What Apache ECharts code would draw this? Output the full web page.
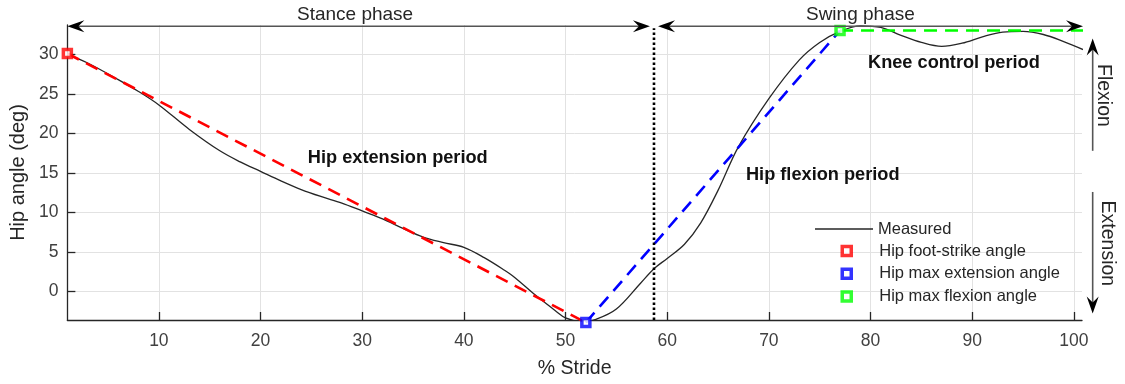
<!DOCTYPE html>
<html>
<head>
<meta charset="utf-8">
<title>Hip angle over the stride</title>
<script src="https://cdn.jsdelivr.net/npm/echarts@6/dist/echarts.min.js"></script>
<style>
  html, body { margin: 0; padding: 0; background: #ffffff; }
  #chart { width: 1125px; height: 384px; }
</style>
</head>
<body>
<div id="chart"></div>
<script>
// Measured hip angle (deg) against % stride
const strideX = [1, 3, 6, 8, 10, 13, 16, 18, 20, 22, 24, 26, 28, 30, 32, 34, 36, 38, 40, 42, 44, 45, 47, 49, 50, 51.7, 53, 55, 57.4, 58.7, 60, 61.7, 63.3, 65, 67, 70, 73, 75, 77, 79, 81, 83, 85, 87, 89, 91, 93, 95, 97, 99, 100.9];
const hipAngle = [30.0, 28.9, 26.8, 25.3, 23.6, 20.5, 17.8, 16.4, 15.2, 14.0, 12.9, 12.0, 11.2, 10.2, 9.2, 8.0, 6.9, 6.2, 5.6, 4.3, 2.7, 1.8, -0.4, -2.4, -3.3, -3.8, -3.5, -2.2, 1.1, 2.9, 4.2, 6.0, 8.7, 12.8, 18.3, 24.4, 29.3, 31.5, 32.9, 33.6, 33.4, 32.4, 31.5, 31.0, 31.4, 32.2, 32.8, 32.9, 32.5, 31.6, 30.6];

// Key events of the stride: [% stride, angle]
const footStrike = [1, 30.1];
const maxExtension = [52, -3.9];
const maxFlexion = [77, 33];
const strideEnd = 100.9;
const toeOff = 58.7;

// Axis ranges and tick labels
const xRange = [1, 100.8];
const yRange = [-3.58, 33.7];
const xTicks = [10, 20, 30, 40, 50, 60, 70, 80, 90, 100];
const yTicks = [0, 5, 10, 15, 20, 25, 30];

const FONT = '"Liberation Sans", Arial, Helvetica, sans-serif';
const AXIS_COLOR = '#262626';

const chart = echarts.init(document.getElementById('chart'), null, { renderer: 'canvas' });

const markerStyle = (color) => ({ color: '#ffffff', borderColor: color, borderWidth: 3.5 });
const dashStyle = (color) => ({ color: color, width: 2.6, type: [13, 8] });

const option = {
  animation: false,
  backgroundColor: '#ffffff',
  textStyle: { fontFamily: FONT },
  grid: { left: 65, right: 43, top: 25, bottom: 61, containLabel: false },
  xAxis: {
    type: 'value',
    min: xRange[0],
    max: xRange[1],
    name: '% Stride',
    nameLocation: 'middle',
    nameGap: 39,
    nameTextStyle: { fontSize: 19.5, color: AXIS_COLOR, fontFamily: FONT },
    axisLine: { show: true, onZero: false, lineStyle: { color: AXIS_COLOR, width: 1.3 } },
    axisTick: { show: true, inside: true, length: 8, customValues: xTicks, lineStyle: { color: AXIS_COLOR, width: 1.3 } },
    axisLabel: { customValues: xTicks, fontSize: 17.5, color: '#404040', margin: 12, fontFamily: FONT },
    splitLine: { show: true, lineStyle: { color: '#e2e2e2', width: 1 } }
  },
  yAxis: {
    type: 'value',
    min: yRange[0],
    max: yRange[1],
    name: 'Hip angle (deg)',
    nameLocation: 'middle',
    nameRotate: 90,
    nameGap: 36,
    nameTextStyle: { fontSize: 20, color: AXIS_COLOR, fontFamily: FONT },
    axisLine: { show: true, onZero: false, lineStyle: { color: AXIS_COLOR, width: 1.3 } },
    axisTick: { show: true, inside: true, length: 8, customValues: yTicks, lineStyle: { color: AXIS_COLOR, width: 1.3 } },
    axisLabel: { customValues: yTicks, fontSize: 17.5, color: '#404040', margin: 9, fontFamily: FONT },
    splitLine: { show: true, lineStyle: { color: '#e2e2e2', width: 1 } }
  },
  legend: [
    {
      data: ['Measured'],
      left: 815, top: 220.5, padding: 0,
      icon: 'rect', itemWidth: 58, itemHeight: 1.5, itemGap: 0, itemTextGap: 5,
      selectedMode: false,
      textStyle: { fontSize: 16.5, lineHeight: 17, color: AXIS_COLOR, fontFamily: FONT }
    },
    {
      data: [
        { name: 'Hip foot-strike angle', itemStyle: markerStyle('#ff0000') },
        { name: 'Hip max extension angle', itemStyle: markerStyle('#0000ff') },
        { name: 'Hip max flexion angle', itemStyle: markerStyle('#00ff00') }
      ],
      orient: 'vertical',
      left: 840.5, top: 242.5, padding: 0,
      icon: 'rect',
      itemWidth: 9, itemHeight: 9, itemGap: 5.8, itemTextGap: 5,
      selectedMode: false,
      textStyle: { fontSize: 16.5, lineHeight: 17, color: AXIS_COLOR, fontFamily: FONT, padding: [0, 0, 0, 23] }
    }
  ],
  series: [
    {
      name: 'Measured',
      type: 'line',
      data: strideX.map((x, i) => [x, hipAngle[i]]),
      smooth: 0.35,
      symbol: 'none',
      color: AXIS_COLOR,
      lineStyle: { color: AXIS_COLOR, width: 1.3 },
      z: 3
    },
    {
      name: 'extension trend',
      type: 'line',
      data: [footStrike, maxExtension],
      symbol: 'none',
      clip: false,
      lineStyle: dashStyle('#ff0000'),
      z: 4
    },
    {
      name: 'flexion trend',
      type: 'line',
      data: [maxExtension, maxFlexion],
      symbol: 'none',
      clip: false,
      lineStyle: dashStyle('#0000ff'),
      z: 4
    },
    {
      name: 'knee control level',
      type: 'line',
      data: [maxFlexion, [strideEnd, maxFlexion[1]]],
      symbol: 'none',
      clip: false,
      lineStyle: dashStyle('#00ff00'),
      z: 4
    },
    {
      name: 'toe-off',
      type: 'line',
      data: [[toeOff, yRange[0]], [toeOff, 33.3]],
      symbol: 'none',
      clip: false,
      lineStyle: { color: '#000000', width: 2.6, type: [2.5, 2.5] },
      z: 4
    },
    {
      name: 'Hip foot-strike angle',
      type: 'scatter',
      data: [footStrike],
      symbol: 'rect', symbolSize: 8,
      clip: false,
      itemStyle: markerStyle('#ff0000'),
      z: 6
    },
    {
      name: 'Hip max extension angle',
      type: 'scatter',
      data: [maxExtension],
      symbol: 'rect', symbolSize: 8,
      clip: false,
      itemStyle: markerStyle('#0000ff'),
      z: 6
    },
    {
      name: 'Hip max flexion angle',
      type: 'scatter',
      data: [maxFlexion],
      symbol: 'rect', symbolSize: 8,
      clip: false,
      itemStyle: markerStyle('#00ff00'),
      z: 6
    }
  ]
};

chart.setOption(option);

// ---- annotations placed in data coordinates ----
const toPx = (x, y) => chart.convertToPixel({ gridIndex: 0 }, [x, y]);

// Concave-backed arrow head with its tip at p, pointing along unit vector d
function head(p, d) {
  const L = 17, W = 12, N = 11;
  const n = [-d[1], d[0]];
  return {
    type: 'polygon',
    silent: true,
    z: 20,
    shape: {
      points: [
        [p[0], p[1]],
        [p[0] - d[0] * L + n[0] * W / 2, p[1] - d[1] * L + n[1] * W / 2],
        [p[0] - d[0] * N, p[1] - d[1] * N],
        [p[0] - d[0] * L - n[0] * W / 2, p[1] - d[1] * L - n[1] * W / 2]
      ]
    },
    style: { fill: '#000000', stroke: null }
  };
}

function arrow(from, to, both) {
  const a = toPx(from[0], from[1]);
  const b = toPx(to[0], to[1]);
  const len = Math.hypot(b[0] - a[0], b[1] - a[1]);
  const d = [(b[0] - a[0]) / len, (b[1] - a[1]) / len];
  const back = 10;
  const start = both ? [a[0] + d[0] * back, a[1] + d[1] * back] : a;
  const end = [b[0] - d[0] * back, b[1] - d[1] * back];
  const items = [{
    type: 'line',
    silent: true,
    z: 19,
    shape: { x1: start[0], y1: start[1], x2: end[0], y2: end[1] },
    style: { stroke: '#555555', lineWidth: 1.6 }
  }, head(b, d)];
  if (both) items.push(head(a, [-d[0], -d[1]]));
  return items;
}

function label(text, at, opts) {
  const p = toPx(at[0], at[1]);
  return {
    type: 'text',
    silent: true,
    z: 21,
    x: p[0], y: p[1],
    rotation: opts.rotation || 0,
    style: {
      text: text,
      x: 0, y: 0,
      fill: opts.color || AXIS_COLOR,
      font: (opts.bold ? 'bold ' : '') + opts.size + 'px ' + FONT,
      align: 'center', verticalAlign: 'middle',
      textAlign: 'center', textVerticalAlign: 'middle'
    }
  };
}

const phaseY = 33.55;
const sideX = 101.85;
const graphics = [].concat(
  arrow([xRange[0], phaseY], [58.3, phaseY], true),
  arrow([59.1, phaseY], [100.9, phaseY], true),
  arrow([sideX, 17.8], [sideX, 32.0], false),
  arrow([sideX, 12.6], [sideX, -2.75], false),
  [
    label('Stance phase', [29.3, 35.0], { size: 19 }),
    label('Swing phase', [79.0, 35.0], { size: 19 }),
    label('Hip extension period', [33.5, 16.85], { size: 18.2, bold: true, color: '#111111' }),
    label('Hip flexion period', [75.3, 14.7], { size: 18.2, bold: true, color: '#111111' }),
    label('Knee control period', [88.2, 28.9], { size: 18.2, bold: true, color: '#111111' }),
    label('Flexion', [102.9, 24.8], { size: 19.5, rotation: -Math.PI / 2 }),
    label('Extension', [103.3, 6.1], { size: 19.5, rotation: -Math.PI / 2 })
  ]
);

chart.setOption({ graphic: { elements: graphics } });
</script>
</body>
</html>
